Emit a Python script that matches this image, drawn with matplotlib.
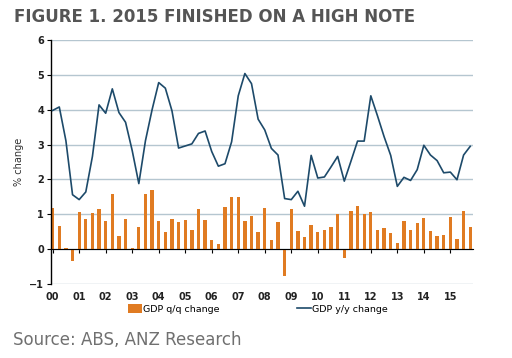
import matplotlib
matplotlib.use('Agg')
import matplotlib.pyplot as plt
import numpy as np

# 季度数据 2000Q1 - 2015Q4
years = ['00', '01', '02', '03', '04', '05', '06', '07',
         '08', '09', '10', '11', '12', '13', '14', '15']

gdp_qq = [1.17, 0.66, 0.03, -0.33, 1.06, 0.86, 1.03, 1.14,
          0.80, 1.57, 0.37, 0.86, 0.03, 0.63, 1.57, 1.71,
          0.80, 0.49, 0.86, 0.77, 0.83, 0.54, 1.14, 0.83,
          0.26, 0.14, 1.20, 1.49, 1.49, 0.80, 0.94, 0.49,
          1.17, 0.26, 0.77, -0.76, 1.14, 0.51, 0.34, 0.69,
          0.49, 0.54, 0.63, 1.00, -0.25, 1.09, 1.23, 1.00,
          1.06, 0.54, 0.60, 0.46, 0.17, 0.80, 0.54, 0.74,
          0.89, 0.51, 0.37, 0.40, 0.91, 0.29, 1.09, 0.63]

gdp_yy = [3.98, 4.08, 3.11, 1.56, 1.42, 1.64, 2.66, 4.14,
          3.90, 4.60, 3.92, 3.64, 2.83, 1.88, 3.11, 4.00,
          4.78, 4.62, 3.97, 2.90, 2.96, 3.02, 3.32, 3.39,
          2.80, 2.38, 2.45, 3.08, 4.40, 5.04, 4.75, 3.73,
          3.42, 2.89, 2.70, 1.45, 1.42, 1.66, 1.23, 2.69,
          2.04, 2.07, 2.36, 2.66, 1.95, 2.52, 3.10, 3.10,
          4.40, 3.83, 3.23, 2.69, 1.80, 2.06, 1.97, 2.28,
          2.98, 2.70, 2.54, 2.19, 2.21, 1.99, 2.70, 2.95]

orange = '#E07B22'
navy = '#1D4A6A'
grid_c = '#B5C6D0'

x = np.arange(len(gdp_qq))

fig = plt.figure(figsize=(5.12, 3.58), dpi=100)
ax = fig.add_axes([0.0996, 0.207, 0.824, 0.681])

ax.set_ylim(-1, 6)
ax.set_xlim(-0.25, 63.4)
ax.set_yticks(range(-1, 7))
ax.yaxis.grid(True, color=grid_c, linewidth=1)
ax.set_axisbelow(True)

bars = ax.bar(x, gdp_qq, width=0.5, color=orange, label='GDP q/q change', zorder=2)
line, = ax.plot(x, gdp_yy, color=navy, linewidth=1.2, label='GDP y/y change', zorder=3)

# 坐标轴样式
for s in ['top', 'right']:
    ax.spines[s].set_visible(False)
ax.spines['bottom'].set_position(('data', 0))
ax.spines['bottom'].set_zorder(4)
ax.spines['left'].set_linewidth(1)
ax.set_xticks(x[::4])
ax.set_xticklabels(years)
ax.tick_params(axis='x', direction='out', length=3, pad=28, labelsize=7)
ax.tick_params(axis='y', direction='out', length=3, pad=2, labelsize=7)
for lab in ax.get_xticklabels() + ax.get_yticklabels():
    lab.set_fontweight('bold')
    lab.set_color('#222222')
ax.set_ylabel('% change', fontsize=7, color='#333333', labelpad=4)

fig.legend([bars, line], ['GDP q/q change', 'GDP y/y change'],
           loc='center', bbox_to_anchor=(0.503, 0.137), ncol=2, frameon=False,
           fontsize=6.8, columnspacing=8.2, handlelength=1.5, handleheight=1.0,
           handletextpad=0.1)

fig.text(0.027, 0.952, 'FIGURE 1. 2015 FINISHED ON A HIGH NOTE', fontsize=12,
         fontweight='bold', color='#555555', va='center')
fig.text(0.025, 0.05, 'Source: ABS, ANZ Research', fontsize=12,
         color='#707070', va='center')

fig.savefig('out.png', dpi=100)
